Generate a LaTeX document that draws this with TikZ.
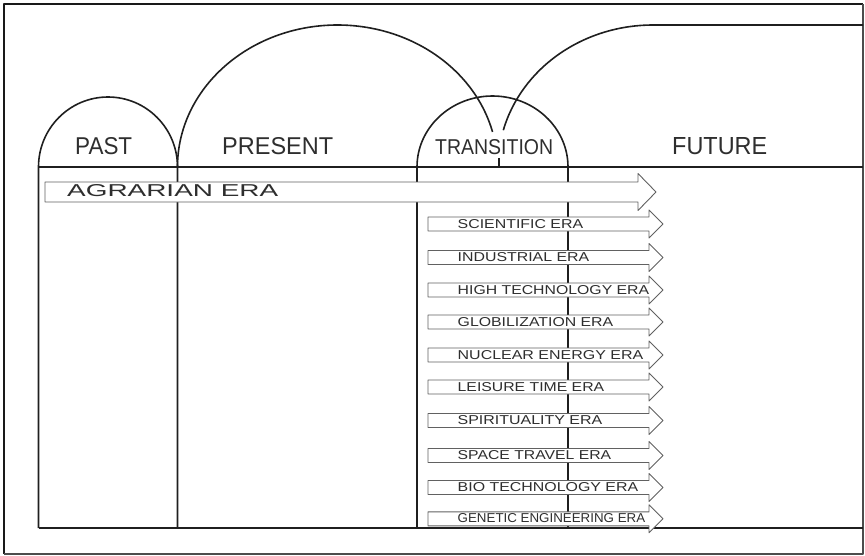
\documentclass[tikz,border=0pt]{standalone}
\usepackage{fontspec}
\setmainfont{Liberation Sans}
\usepackage{graphicx}
\begin{document}
\begin{tikzpicture}[x=1pt,y=-1pt,line join=round,
  mainline/.style={draw=black!88,line width=1.6},
  eraarrow/.style={draw=black!62,line width=0.9,fill=white},
  lbl/.style={inner sep=0pt,anchor=south west,text=black!82}]
\useasboundingbox (0,0) rectangle (865,555);
% frame
\draw[line width=2.4,black!90] (863,4) -- (3.7,4) -- (3.7,554);
\draw[line width=1.4,black!70] (3.7,554) -- (863,554) -- (863,4);
% PAST column
\draw[mainline] (38.5,528) -- (38.5,167) arc[start angle=180,end angle=360,x radius=69.5,y radius=70];
% PRESENT column
\draw[mainline] (177.5,528) -- (177.5,167) arc[start angle=180,end angle=345.7,x radius=160,y radius=142];
% TRANSITION column
\draw[mainline] (417,528) -- (417,167) arc[start angle=180,end angle=360,x radius=75.5,y radius=71] -- (568,528);
% FUTURE arc
\draw[mainline] (503.3,130.25) arc[start angle=195,end angle=270,x radius=155,y radius=142] -- (863,25);
% base lines
\draw[mainline] (38.5,167) -- (863,167);
\draw[mainline] (38.5,528) -- (863,528);
\draw[line width=2.2,black!88] (499,158) -- (499,167);
% agrarian arrow
\draw[eraarrow] (45,182) -- (638,182) -- (638,173.5) -- (656,192) -- (638,210.5) -- (638,202) -- (45,202) -- cycle;
% small arrows
\foreach \y in {224,257.5,290,322,355,387,420.5,455.5,487.5,518.8}
  \draw[eraarrow] (428,\y-7) -- (649,\y-7) -- (649,\y-14) -- (663,\y) -- (649,\y+14) -- (649,\y+7) -- (428,\y+7) -- cycle;
% headers
\node[lbl] (past) at (75,155) {\resizebox{57pt}{17pt}{PAST}};
\node[lbl] (present) at (222,155) {\resizebox{111pt}{17pt}{PRESENT}};
\node[lbl] (transition) at (435,155) {\resizebox{118pt}{15pt}{TRANSITION}};
\node[lbl] (future) at (672,155) {\resizebox{95pt}{17pt}{FUTURE}};
\node[lbl] (agrarian) at (67,197) {\resizebox{211pt}{12pt}{AGRARIAN ERA}};
% era labels
\foreach \y/\w/\t [count=\i] in {224/125.5/SCIENTIFIC ERA,257.5/131.5/INDUSTRIAL ERA,290/191.5/HIGH TECHNOLOGY ERA,322/155.5/GLOBILIZATION ERA,355/185.5/NUCLEAR ENERGY ERA,387/146.5/LEISURE TIME ERA,420.5/144.5/SPIRITUALITY ERA,455.5/153.5/SPACE TRAVEL ERA,487.5/180.5/BIO TECHNOLOGY ERA,518.8/187.5/GENETIC ENGINEERING ERA}
  \node[lbl] (era\i) at (457.5,\y+4.5) {\resizebox{\w pt}{9pt}{\t}};
\end{tikzpicture}
\end{document}
